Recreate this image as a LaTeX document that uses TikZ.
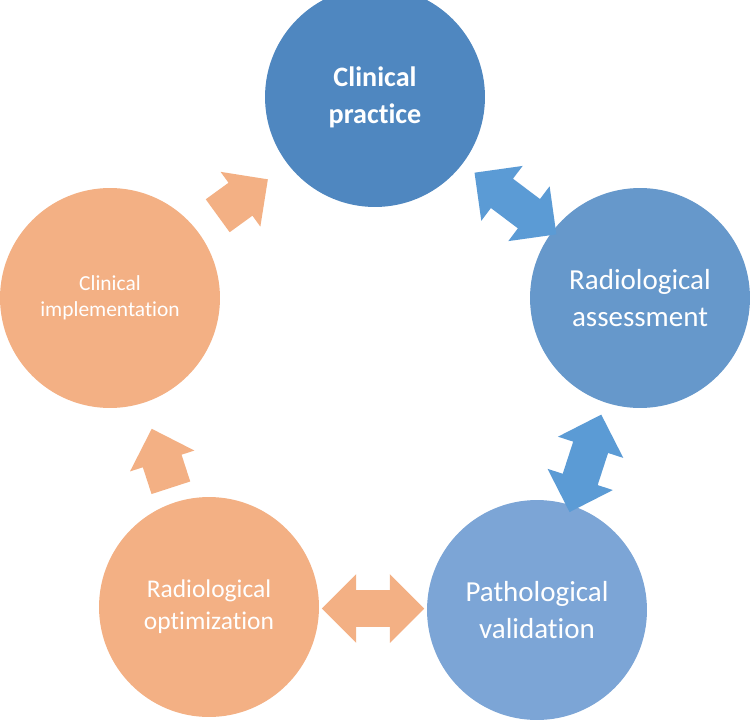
\documentclass[tikz,border=0pt]{standalone}
\usepackage{fontspec}
\setmainfont{Carlito}[Ligatures=NoCommon]
\usetikzlibrary{shapes.arrows,calc}

\definecolor{practiceblue}{RGB}{79,135,192}
\definecolor{assessblue}{RGB}{102,152,203}
\definecolor{validblue}{RGB}{124,165,214}
\definecolor{arrowblue}{RGB}{91,155,213}
\definecolor{peach}{RGB}{243,176,132}

\begin{document}
\begin{tikzpicture}[x=0.02cm, y=-0.02cm,
    stage/.style={circle, minimum size=4.4cm, inner sep=0pt, text=white, align=center},
    twoway/.style={double arrow, minimum height=2.05cm, inner xsep=0pt, inner ysep=0.36cm,
        double arrow head extend=0.32cm},
    oneway/.style={single arrow, fill=peach, minimum height=1.24cm, inner xsep=0pt,
        inner ysep=0.4cm, single arrow head extend=0.27cm}]
    \useasboundingbox[fill=white] (0,0) rectangle (750,723);

    % Blue side: practice, assessment, validation
    \node[stage, fill=practiceblue, font=\fontsize{16}{21}\selectfont\bfseries] (practice) at (375,97) {Clinical\\practice};
    \node[stage, fill=assessblue, font=\fontsize{16.5}{21}\selectfont] (assess) at (640,298) {Radiological\\assessment};
    \node[stage, fill=validblue, font=\fontsize{16.5}{21}\selectfont] (valid) at (537,610) {Pathological\\validation};

    % Orange side: optimization, implementation
    \node[stage, fill=peach, font=\fontsize{14.5}{18}\selectfont] (optim) at (209,607) {Radiological\\optimization};
    \node[stage, fill=peach, font=\fontsize{12.2}{15}\selectfont] (implem) at (110,298) {Clinical\\implementation};

    % Two-way arrows
    \node[twoway, fill=arrowblue, rotate=-37] (pa) at ($(practice)!0.53!(assess)$) {};
    \node[twoway, fill=arrowblue, rotate=72] (av) at ($(assess)!0.53!(valid)$) {};
    \node[twoway, fill=peach] (vo) at ($(valid)!0.5!(optim)$) {};

    % One-way arrows
    \node[oneway, rotate=108] (oi) at ($(optim)!0.45!(implem)$) {};
    \node[oneway, rotate=36] (ip) at ($(implem)!0.47!(practice)$) {};
\end{tikzpicture}
\end{document}
